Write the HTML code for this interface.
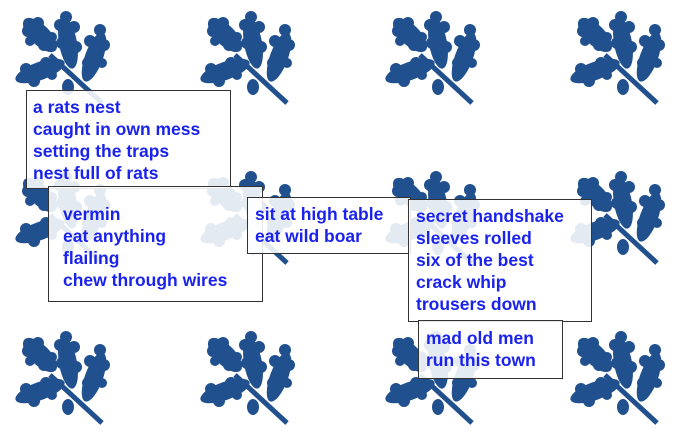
<!DOCTYPE html>
<html><head><meta charset="utf-8"><style>
body{margin:0;width:676px;height:441px;background:#fff;position:relative;overflow:hidden;font-family:"Liberation Sans",Arial,sans-serif}
svg{position:absolute;left:0;top:0}
.b{position:absolute;background:rgba(255,255,255,0.88);border:1px solid #333;box-sizing:border-box;color:#1a22ee;font-weight:bold;font-size:17.5px;line-height:22px;white-space:nowrap}
</style></head><body>
<svg width="676" height="441">
<defs>
<g id="lf" fill="#21508e" stroke="#21508e">
<line x1="40" y1="50" x2="92" y2="98" stroke-width="5"/>
<g stroke="none">
<ellipse cx="30" cy="30" rx="22" ry="10" transform="rotate(45 30 30)"/>
<circle cx="18" cy="26" r="6"/><circle cx="28" cy="18" r="6"/><circle cx="34" cy="40" r="6"/><circle cx="42" cy="32" r="5"/><circle cx="20" cy="36" r="5"/>
<ellipse cx="58" cy="38" rx="26" ry="9" transform="rotate(80 58 38)"/>
<circle cx="50" cy="20" r="6"/><circle cx="64" cy="22" r="6"/><circle cx="52" cy="38" r="6"/><circle cx="66" cy="42" r="6"/><circle cx="56" cy="12" r="6"/>
<ellipse cx="84" cy="52" rx="26" ry="9" transform="rotate(-70 84 52)"/>
<circle cx="80" cy="36" r="6"/><circle cx="94" cy="40" r="6"/><circle cx="78" cy="58" r="6"/><circle cx="92" cy="58" r="5"/><circle cx="90" cy="25" r="6"/>
<ellipse cx="30" cy="66" rx="26" ry="9" transform="rotate(-20 30 66)"/>
<circle cx="16" cy="64" r="6"/><circle cx="24" cy="76" r="6"/><circle cx="36" cy="58" r="6"/><circle cx="42" cy="70" r="5"/>
<ellipse cx="58" cy="82" rx="6" ry="8"/>
</g></g>
</defs>
<use href="#lf" x="10" y="5"/><use href="#lf" x="195" y="5"/><use href="#lf" x="380" y="5"/><use href="#lf" x="565" y="5"/>
<use href="#lf" x="10" y="165"/><use href="#lf" x="195" y="165"/><use href="#lf" x="380" y="165"/><use href="#lf" x="565" y="165"/>
<use href="#lf" x="10" y="325"/><use href="#lf" x="195" y="325"/><use href="#lf" x="380" y="325"/><use href="#lf" x="565" y="325"/>
</svg>
<div class="b" style="left:26px;top:90px;width:205px;height:99px;padding:5px 0 0 6px">a rats nest<br>caught in own mess<br>setting the traps<br>nest full of rats</div>
<div class="b" style="left:48px;top:186px;width:215px;height:116px;padding:16px 0 0 14px">vermin<br>eat anything<br>flailing<br>chew through wires</div>
<div class="b" style="left:247px;top:197px;width:164px;height:57px;padding:5px 0 0 7px">sit at high table<br>eat wild boar</div>
<div class="b" style="left:408px;top:199px;width:184px;height:123px;padding:5px 0 0 7px">secret handshake<br>sleeves rolled<br>six of the best<br>crack whip<br>trousers down</div>
<div class="b" style="left:418px;top:320px;width:145px;height:59px;padding:6px 0 0 7px">mad old men<br>run this town</div>
</body></html>
